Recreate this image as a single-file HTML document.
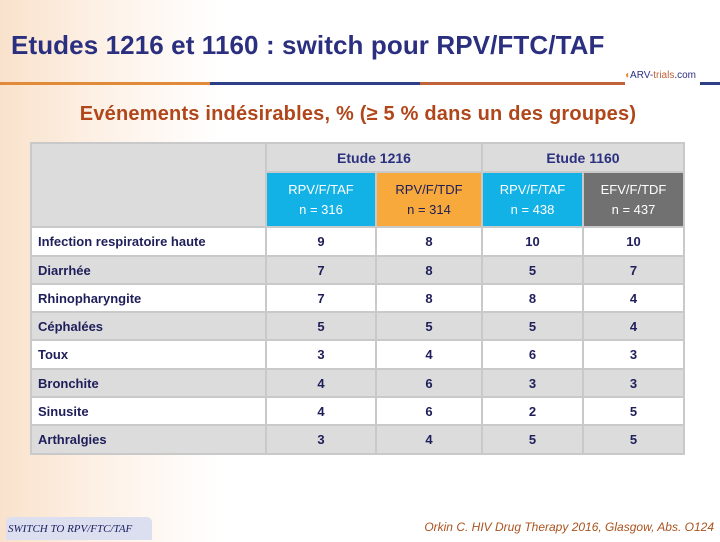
<!DOCTYPE html>
<html><head><meta charset="utf-8"><style>
body{margin:0;width:720px;height:540px;overflow:hidden;position:relative;font-family:"Liberation Sans",sans-serif;
background:linear-gradient(90deg,#f9e2cc 0px,#fdf1e6 100px,#fff 220px);}
.title{position:absolute;left:11px;top:30px;font-size:26px;font-weight:bold;color:#2b2f7f;white-space:nowrap;letter-spacing:0.1px}
.line{position:absolute;top:82px;height:3px}
.sub{position:absolute;left:0;width:716px;top:103px;text-align:center;font-size:20px;font-weight:bold;color:#b0461a;letter-spacing:0.2px}
table{position:absolute;left:30px;top:142px;border-collapse:collapse;table-layout:fixed}
td{border:2px solid #c9c9c9;padding:0;text-align:center;font-size:13px;font-weight:bold;color:#1e1e5a}
td.l{text-align:left;padding-left:6px}
.g{background:#dcdcdc}.w{background:#fff}
.hd{color:#2b2f7f;font-size:14px}
.hc{color:#fff;font-weight:normal;font-size:13px;line-height:20px}
.foot{position:absolute;left:6px;top:517px;width:144px;height:23px;background:#dcdff0;border-radius:5px 5px 0 0;font-family:"Liberation Serif",serif;font-style:italic;font-size:11px;color:#1e2060;line-height:25px;padding-left:2px}
.ref{position:absolute;right:6px;top:520px;font-size:12px;font-style:italic;color:#a9531f}
</style></head><body>
<div class="title">Etudes 1216 et 1160 : switch pour RPV/FTC/TAF</div>
<div class="line" style="left:0;width:210px;background:#e08a3a"></div>
<div class="line" style="left:210px;width:210px;background:#2d3f86"></div>
<div class="line" style="left:420px;width:205px;background:#c0623a"></div>
<div class="line" style="left:700px;width:20px;background:#2d3f86"></div>
<div style="position:absolute;left:624px;top:70px;font-size:10px;color:#2b2f7f"><span style="color:#e08a3a">◖</span>ARV-<span style="color:#c0623a">trials</span>.com</div>
<div class="sub">Evénements indésirables, % (≥ 5 % dans un des groupes)</div>
<table>
<colgroup><col style="width:235px"><col style="width:110px"><col style="width:106px"><col style="width:101px"><col style="width:101px"></colgroup>
<tr style="height:29px"><td class="g" rowspan="2"></td><td class="g hd" colspan="2">Etude 1216</td><td class="g hd" colspan="2">Etude 1160</td></tr>
<tr style="height:55px"><td class="hc" style="background:#12b2e6">RPV/F/TAF<br>n = 316</td><td class="hc" style="background:#f7a93c;color:#1e1e5a">RPV/F/TDF<br>n = 314</td><td class="hc" style="background:#12b2e6">RPV/F/TAF<br>n = 438</td><td class="hc" style="background:#717171">EFV/F/TDF<br>n = 437</td></tr>
<tr class="w" style="height:29px"><td class="l">Infection respiratoire haute</td><td>9</td><td>8</td><td>10</td><td>10</td></tr>
<tr class="g" style="height:28px"><td class="l">Diarrhée</td><td>7</td><td>8</td><td>5</td><td>7</td></tr>
<tr class="w" style="height:28px"><td class="l">Rhinopharyngite</td><td>7</td><td>8</td><td>8</td><td>4</td></tr>
<tr class="g" style="height:28px"><td class="l">Céphalées</td><td>5</td><td>5</td><td>5</td><td>4</td></tr>
<tr class="w" style="height:29px"><td class="l">Toux</td><td>3</td><td>4</td><td>6</td><td>3</td></tr>
<tr class="g" style="height:28px"><td class="l">Bronchite</td><td>4</td><td>6</td><td>3</td><td>3</td></tr>
<tr class="w" style="height:28px"><td class="l">Sinusite</td><td>4</td><td>6</td><td>2</td><td>5</td></tr>
<tr class="g" style="height:29px"><td class="l">Arthralgies</td><td>3</td><td>4</td><td>5</td><td>5</td></tr>
</table>
<div class="foot">SWITCH TO RPV/FTC/TAF</div>
<div class="ref">Orkin C. HIV Drug Therapy 2016, Glasgow, Abs. O124</div>
</body></html>
